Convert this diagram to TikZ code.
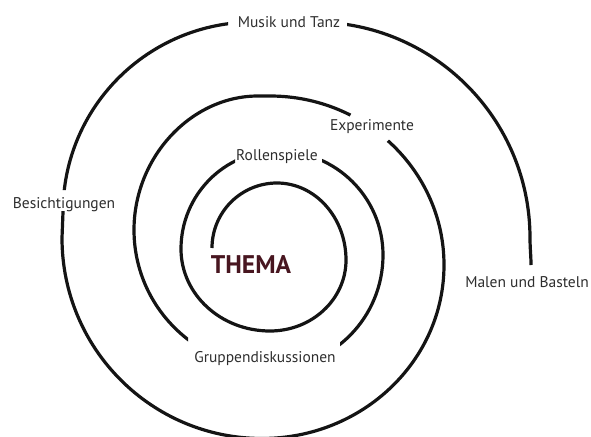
\documentclass[tikz,border=0pt]{standalone}
\usepackage{fontspec}
\setmainfont{PT Sans}
\definecolor{themacol}{RGB}{72,22,32}
\definecolor{labelcol}{RGB}{45,45,45}
\definecolor{linecol}{RGB}{20,20,20}
\begin{document}
\begin{tikzpicture}[x=1pt,y=-1pt,
  spiralline/.style={draw=linecol,line width=3.2pt},
  lbl/.style={inner sep=0pt,anchor=base,text=labelcol,font=\fontsize{15.5}{18}\selectfont},
  themalbl/.style={inner sep=0pt,anchor=base,text=themacol,font=\fontsize{25.5}{28}\selectfont\bfseries}]
\useasboundingbox (0,0) rectangle (591,436);
\begin{scope}[even odd rule]
\clip (-10,-10) rectangle (601,446)
  (228,4) rectangle (347,44)
  (235,138) rectangle (322,175)
  (188,336) rectangle (340,386)
  (48,190) rectangle (82,211)
  (344,126) -- (357,104) -- (398,130) -- (381,148) -- cycle;
\draw[spiralline] (212,248)
  .. controls (212,212.1) and (241.1,183) .. (277,183)
  .. controls (315.1,183) and (346,217.5) .. (346,260)
  .. controls (346,299.2) and (312,331) .. (270,331)
  .. controls (220.8,331) and (181,294.3) .. (181,249)
  .. controls (181,194.9) and (224.4,151) .. (278,151)
  .. controls (336,151) and (383,197.6) .. (383,255)
  .. controls (383,317.4) and (333.3,368) .. (272,368)
  .. controls (195.8,368) and (134,306.2) .. (134,230)
  .. controls (134,157) and (191.3,96) .. (258,96)
  -- (270,96)
  .. controls (366.1,96) and (444,171.7) .. (444,265)
  .. controls (444,360.8) and (362.5,438.5) .. (262,438.5)
  .. controls (151.5,438.5) and (62,348.8) .. (62,238)
  -- (63,212)
  .. controls (63,107.1) and (148.1,22) .. (254,22)
  -- (314,22)
  .. controls (433.3,22) and (530,118.7) .. (530,238)
  .. controls (530,248) and (531,256) .. (531,265);
\end{scope}
\node[lbl] (musik) at (289,27.5) {Musik und Tanz};
\node[lbl] (exp) at (372,130) {Experimente};
\node[lbl] (rollen) at (277,160) {Rollenspiele};
\node[lbl] (besicht) at (64,208) {Besichtigungen};
\node[lbl] (malen) at (527,287) {Malen und Basteln};
\node[lbl] (gruppe) at (265,362) {Gruppendiskussionen};
\node[themalbl] (thema) at (251,273) {THEMA};
\end{tikzpicture}
\end{document}
